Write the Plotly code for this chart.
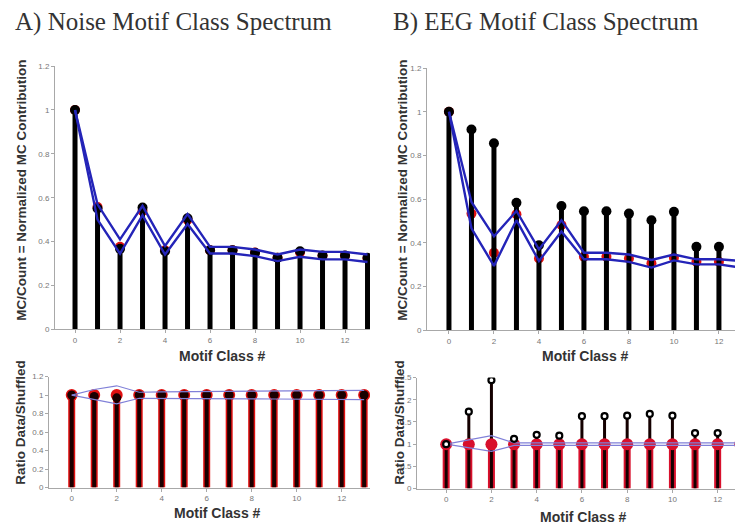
import plotly.graph_objects as go

# ---------------- data ----------------
motif_class = list(range(14))
x_tick_vals = [0, 2, 4, 6, 8, 10, 12]

noise_data = [1.0, 0.551, 0.367, 0.555, 0.356, 0.506, 0.361, 0.361, 0.349, 0.326, 0.356, 0.337, 0.337, 0.326]
noise_shuf_mean = [1.0, 0.558, 0.376, 0.540, 0.360, 0.500, 0.360, 0.360, 0.350, 0.326, 0.350, 0.336, 0.336, 0.324]
noise_shuf_upper = [1.0, 0.570, 0.410, 0.563, 0.380, 0.525, 0.376, 0.376, 0.364, 0.341, 0.364, 0.353, 0.353, 0.341]
noise_shuf_lower = [1.0, 0.500, 0.345, 0.520, 0.341, 0.480, 0.346, 0.346, 0.334, 0.311, 0.331, 0.319, 0.319, 0.307]

eeg_data = [1.0, 0.919, 0.856, 0.584, 0.389, 0.569, 0.545, 0.545, 0.534, 0.504, 0.542, 0.382, 0.382, 0.374]
eeg_shuf_mean = [1.0, 0.534, 0.355, 0.531, 0.329, 0.482, 0.337, 0.337, 0.329, 0.307, 0.332, 0.314, 0.314, 0.307]
eeg_shuf_upper = [1.0, 0.587, 0.430, 0.546, 0.370, 0.504, 0.355, 0.355, 0.347, 0.322, 0.347, 0.325, 0.325, 0.317]
eeg_shuf_lower = [1.0, 0.467, 0.295, 0.504, 0.317, 0.452, 0.325, 0.325, 0.313, 0.287, 0.320, 0.302, 0.302, 0.287]

noise_ratio = [1.0, 0.985, 0.97, 1.0, 1.0, 1.0, 1.0, 1.0, 1.0, 1.0, 1.0, 1.0, 1.0, 1.0]
noise_ratio_shuf = [1.0] * 14
noise_ratio_upper = [1.0, 1.06, 1.10, 1.03, 1.035, 1.037, 1.04, 1.04, 1.042, 1.044, 1.045, 1.046, 1.048, 1.05]
noise_ratio_lower = [1.0, 0.95, 0.905, 0.965, 0.962, 0.962, 0.96, 0.96, 0.958, 0.957, 0.956, 0.955, 0.953, 0.95]

eeg_ratio = [1.0, 1.73, 2.44, 1.12, 1.21, 1.19, 1.63, 1.63, 1.64, 1.68, 1.64, 1.25, 1.25, 1.27]
eeg_ratio_shuf = [1.0] * 14
eeg_ratio_upper = [1.0, 1.10, 1.19, 1.03, 1.03, 1.03, 1.03, 1.03, 1.035, 1.03, 1.03, 1.03, 1.03, 1.03]
eeg_ratio_lower = [1.0, 0.92, 0.836, 0.97, 0.97, 0.97, 0.97, 0.97, 0.965, 0.97, 0.97, 0.97, 0.97, 0.97]

top_y_ticks = [0, 0.2, 0.4, 0.6, 0.8, 1, 1.2]
top_y_labels = ["0", "0.2", "0.4", "0.6", "0.8", "1", "1.2"]
ratio_noise_ticks = [0, 0.2, 0.4, 0.6, 0.8, 1, 1.2]
ratio_noise_labels = ["0", "0.2", "0.4", "0.6", "0.8", "1", "1.2"]
ratio_eeg_ticks = [0, 0.5, 1, 1.5, 2, 2.5]
ratio_eeg_labels = ["0", "0.5", "1", "1.5", "2", "2.5"]

# page body has an 8px margin: figure drawn at (8,8) inside a 743x525 window
OFF = 8
W, H = 743 - OFF, 525 - OFF


def stems(xs, ys, base=0.0):
    sx, sy = [], []
    for x, y in zip(xs, ys):
        sx += [x, x, None]
        sy += [base, y, None]
    return sx, sy


fig = go.Figure()


def add_spectrum(xa, ya, data, mean, upper, lower):
    fig.add_trace(go.Scatter(x=motif_class, y=mean, mode="markers",
                             marker=dict(color="#e01010", size=10),
                             xaxis=xa, yaxis=ya, showlegend=False))
    sx, sy = stems(motif_class, data)
    fig.add_trace(go.Scatter(x=sx, y=sy, mode="lines",
                             line=dict(color="black", width=5),
                             xaxis=xa, yaxis=ya, showlegend=False))
    fig.add_trace(go.Scatter(x=motif_class, y=data, mode="markers",
                             marker=dict(color="black", size=10),
                             xaxis=xa, yaxis=ya, showlegend=False))
    for env in (upper, lower):
        fig.add_trace(go.Scatter(x=motif_class, y=env, mode="lines",
                                 line=dict(color="#2424b8", width=2.4),
                                 xaxis=xa, yaxis=ya, showlegend=False))


add_spectrum("x", "y", noise_data, noise_shuf_mean, noise_shuf_upper, noise_shuf_lower)
add_spectrum("x2", "y2", eeg_data, eeg_shuf_mean, eeg_shuf_upper, eeg_shuf_lower)

# ---- bottom-left: noise ratio ----
sx, sy = stems(motif_class, noise_ratio_shuf)
fig.add_trace(go.Scatter(x=sx, y=sy, mode="lines", line=dict(color="#e01010", width=7),
                         xaxis="x3", yaxis="y3", showlegend=False))
fig.add_trace(go.Scatter(x=motif_class, y=noise_ratio_shuf, mode="markers",
                         marker=dict(color="#e01010", size=12),
                         xaxis="x3", yaxis="y3", showlegend=False))
sx, sy = stems(motif_class, noise_ratio)
fig.add_trace(go.Scatter(x=sx, y=sy, mode="lines", line=dict(color="#1a0000", width=4),
                         xaxis="x3", yaxis="y3", showlegend=False))
fig.add_trace(go.Scatter(x=motif_class, y=noise_ratio, mode="markers",
                         marker=dict(color="#1a0000", size=9),
                         xaxis="x3", yaxis="y3", showlegend=False))
for env in (noise_ratio_upper, noise_ratio_lower):
    fig.add_trace(go.Scatter(x=motif_class, y=env, mode="lines",
                             line=dict(color="#8080d8", width=1.2),
                             xaxis="x3", yaxis="y3", showlegend=False))

# ---- bottom-right: EEG ratio ----
sx, sy = stems(motif_class, eeg_ratio_shuf)
fig.add_trace(go.Scatter(x=sx, y=sy, mode="lines", line=dict(color="#d8102c", width=7),
                         xaxis="x4", yaxis="y4", showlegend=False))
sx, sy = stems(motif_class, eeg_ratio)
fig.add_trace(go.Scatter(x=sx, y=sy, mode="lines", line=dict(color="#140000", width=3),
                         xaxis="x4", yaxis="y4", showlegend=False))
fig.add_trace(go.Scatter(x=motif_class, y=eeg_ratio_shuf, mode="markers",
                         marker=dict(color="#d8102c", size=12),
                         xaxis="x4", yaxis="y4", showlegend=False))
for env in (eeg_ratio_upper, eeg_ratio_lower):
    fig.add_trace(go.Scatter(x=motif_class, y=env, mode="lines",
                             line=dict(color="#8080d8", width=1.2),
                             xaxis="x4", yaxis="y4", showlegend=False))
fig.add_trace(go.Scatter(x=motif_class, y=eeg_ratio, mode="markers",
                         marker=dict(color="white", size=6, line=dict(color="black", width=2.2)),
                         xaxis="x4", yaxis="y4", showlegend=False))

# ---------------- layout ----------------
tickfont = dict(family="Liberation Sans, Arial", size=8, color="#777777")
axis_common = dict(showline=True, linecolor="#a8a8a8", linewidth=1, ticks="outside",
                   ticklen=3, tickcolor="#a8a8a8", showgrid=False, zeroline=False,
                   tickfont=tickfont, fixedrange=True)


def px_x(p):
    return (p - OFF) / W


def px_y(p):
    return (H - (p - OFF)) / H


layout = dict(
    width=W, height=H, margin=dict(l=0, r=0, t=0, b=0),
    paper_bgcolor="white", plot_bgcolor="white", showlegend=False,
    xaxis=dict(domain=[px_x(55), px_x(370)], range=[-0.89, 13.11], anchor="y",
               tickvals=x_tick_vals, **axis_common),
    yaxis=dict(domain=[px_y(331), px_y(63)], range=[0, 1.2], anchor="x",
               tickvals=top_y_ticks, ticktext=top_y_labels, **axis_common),
    xaxis2=dict(domain=[px_x(427), 1.0], range=[-0.976, 13.07], anchor="y2",
                tickvals=x_tick_vals, **axis_common),
    yaxis2=dict(domain=[px_y(332), px_y(65)], range=[0, 1.2], anchor="x2",
                tickvals=top_y_ticks, ticktext=top_y_labels, **axis_common),
    xaxis3=dict(domain=[px_x(49), px_x(370)], range=[-1.01, 13.26], anchor="y3",
                tickvals=x_tick_vals, **axis_common),
    yaxis3=dict(domain=[px_y(492), px_y(379)], range=[0, 1.2], anchor="x3",
                tickvals=ratio_noise_ticks, ticktext=ratio_noise_labels, **axis_common),
    xaxis4=dict(domain=[px_x(417), 1.0], range=[-1.29, 13.12], anchor="y4",
                tickvals=x_tick_vals, **axis_common),
    yaxis4=dict(domain=[px_y(493), px_y(380)], range=[0, 2.5], anchor="x4",
                tickvals=ratio_eeg_ticks, ticktext=ratio_eeg_labels, **axis_common),
)
fig.update_layout(**layout)

title_font = dict(family="Liberation Serif, Times New Roman", size=25, color="#333333")
label_font = dict(family="Liberation Sans, Arial", size=13.5, color="#333333")
xlabel_font = dict(family="Liberation Sans, Arial", size=14, color="#333333")

annotations = [
    dict(text="A) Noise Motif Class Spectrum", x=px_x(13), y=px_y(18), xanchor="left",
         yanchor="middle", font=title_font),
    dict(text="B) EEG Motif Class Spectrum", x=px_x(391), y=px_y(18), xanchor="left",
         yanchor="middle", font=title_font),
    dict(text="<b>MC/Count = Normalized MC Contribution</b>", x=px_x(22), y=px_y(190),
         textangle=-90, xanchor="center", yanchor="middle", font=label_font),
    dict(text="<b>MC/Count = Normalized MC Contribution</b>", x=px_x(403), y=px_y(190),
         textangle=-90, xanchor="center", yanchor="middle", font=label_font),
    dict(text="<b>Ratio Data/Shuffled</b>", x=px_x(21), y=px_y(426),
         textangle=-90, xanchor="center", yanchor="middle", font=label_font),
    dict(text="<b>Ratio Data/Shuffled</b>", x=px_x(400), y=px_y(426),
         textangle=-90, xanchor="center", yanchor="middle", font=label_font),
    dict(text="<b>Motif Class #</b>", x=px_x(222), y=px_y(358), xanchor="center",
         yanchor="middle", font=xlabel_font),
    dict(text="<b>Motif Class #</b>", x=px_x(585), y=px_y(358), xanchor="center",
         yanchor="middle", font=xlabel_font),
    dict(text="<b>Motif Class #</b>", x=px_x(217), y=px_y(518), xanchor="center",
         yanchor="middle", font=xlabel_font),
    dict(text="<b>Motif Class #</b>", x=px_x(583), y=px_y(522), xanchor="center",
         yanchor="middle", font=xlabel_font),
]
for a in annotations:
    a.update(xref="paper", yref="paper", showarrow=False)
fig.update_layout(annotations=annotations)

fig.write_html("out.html")
